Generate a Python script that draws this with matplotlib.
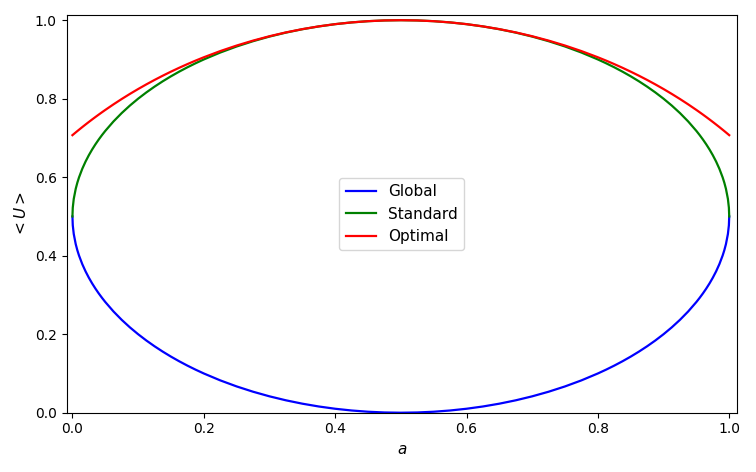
import matplotlib
matplotlib.use("Agg")
import matplotlib.pyplot as plt

a_vals = [0.0, 0.0005, 0.002, 0.005, 0.0075, 0.01, 0.015, 0.02, 0.025, 0.03,
          0.035, 0.04, 0.045, 0.05, 0.0625, 0.075, 0.0875, 0.1, 0.1125, 0.125,
          0.1375, 0.15, 0.1625, 0.175, 0.1875, 0.2, 0.225, 0.25, 0.275, 0.3,
          0.325, 0.35, 0.375, 0.4, 0.425, 0.45, 0.475, 0.5,
          0.525, 0.55, 0.575, 0.6, 0.625, 0.65, 0.675, 0.7, 0.725, 0.75,
          0.775, 0.8, 0.8125, 0.825, 0.8375, 0.85, 0.8625, 0.875, 0.8875, 0.9,
          0.9125, 0.925, 0.9375, 0.95, 0.955, 0.96, 0.965, 0.97, 0.975, 0.98,
          0.985, 0.99, 0.9925, 0.995, 0.998, 0.9995, 1.0]

global_vals = [0.5, 0.47764, 0.45532, 0.42947, 0.41372, 0.4005, 0.37845, 0.36, 0.34388, 0.32941,
               0.31622, 0.30404, 0.2927, 0.28206, 0.25794, 0.23661, 0.21743, 0.2, 0.18402, 0.16928,
               0.15563, 0.14293, 0.13109, 0.12003, 0.10969, 0.1, 0.08242, 0.06699, 0.05349, 0.04174,
               0.03162, 0.02303, 0.01588, 0.0101, 0.00566, 0.00251, 0.00063, 0.0,
               0.00063, 0.00251, 0.00566, 0.0101, 0.01588, 0.02303, 0.03162, 0.04174, 0.05349, 0.06699,
               0.08242, 0.1, 0.10969, 0.12003, 0.13109, 0.14293, 0.15563, 0.16928, 0.18402, 0.2,
               0.21743, 0.23661, 0.25794, 0.28206, 0.2927, 0.30404, 0.31622, 0.32941, 0.34388, 0.36,
               0.37845, 0.4005, 0.41372, 0.42947, 0.45532, 0.47764, 0.5]

standard_vals = [0.5, 0.52236, 0.54468, 0.57053, 0.58628, 0.5995, 0.62155, 0.64, 0.65612, 0.67059,
                 0.68378, 0.69596, 0.7073, 0.71794, 0.74206, 0.76339, 0.78257, 0.8, 0.81598, 0.83072,
                 0.84437, 0.85707, 0.86891, 0.87997, 0.89031, 0.9, 0.91758, 0.93301, 0.94651, 0.95826,
                 0.96838, 0.97697, 0.98412, 0.9899, 0.99434, 0.99749, 0.99937, 1.0,
                 0.99937, 0.99749, 0.99434, 0.9899, 0.98412, 0.97697, 0.96838, 0.95826, 0.94651, 0.93301,
                 0.91758, 0.9, 0.89031, 0.87997, 0.86891, 0.85707, 0.84437, 0.83072, 0.81598, 0.8,
                 0.78257, 0.76339, 0.74206, 0.71794, 0.7073, 0.69596, 0.68378, 0.67059, 0.65612, 0.64,
                 0.62155, 0.5995, 0.58628, 0.57053, 0.54468, 0.52236, 0.5]

optimal_vals = [0.70711, 0.70781, 0.70993, 0.71411, 0.71756, 0.72097, 0.7277, 0.7343, 0.74078, 0.74713,
                0.75336, 0.75947, 0.76547, 0.77136, 0.78561, 0.79922, 0.81221, 0.82462, 0.83647, 0.84779,
                0.8586, 0.86891, 0.87874, 0.88811, 0.89704, 0.90554, 0.92128, 0.93541, 0.94802, 0.95917,
                0.96889, 0.97724, 0.98425, 0.98995, 0.99436, 0.9975, 0.99937, 1.0,
                0.99937, 0.9975, 0.99436, 0.98995, 0.98425, 0.97724, 0.96889, 0.95917, 0.94802, 0.93541,
                0.92128, 0.90554, 0.89704, 0.88811, 0.87874, 0.86891, 0.8586, 0.84779, 0.83647, 0.82462,
                0.81221, 0.79922, 0.78561, 0.77136, 0.76547, 0.75947, 0.75336, 0.74713, 0.74078, 0.7343,
                0.7277, 0.72097, 0.71756, 0.71411, 0.70993, 0.70781, 0.70711]

fig = plt.figure(figsize=(7.56, 4.72), dpi=100)
ax = fig.add_axes([0.088, 0.1256, 0.887, 0.842])
ax.plot(a_vals, global_vals, color="blue", lw=1.6, label="Global")
ax.plot(a_vals, standard_vals, color="green", lw=1.6, label="Standard")
ax.plot(a_vals, optimal_vals, color="red", lw=1.6, label="Optimal")
ax.set_xlim(-0.009, 1.012)
ax.set_ylim(0, 1.0125)
ax.set_xlabel("$a$", fontsize=11)
ax.set_ylabel("$<U>$", fontsize=11)
ax.legend(loc="center", fontsize=11)
fig.savefig("out.png", dpi=100)
